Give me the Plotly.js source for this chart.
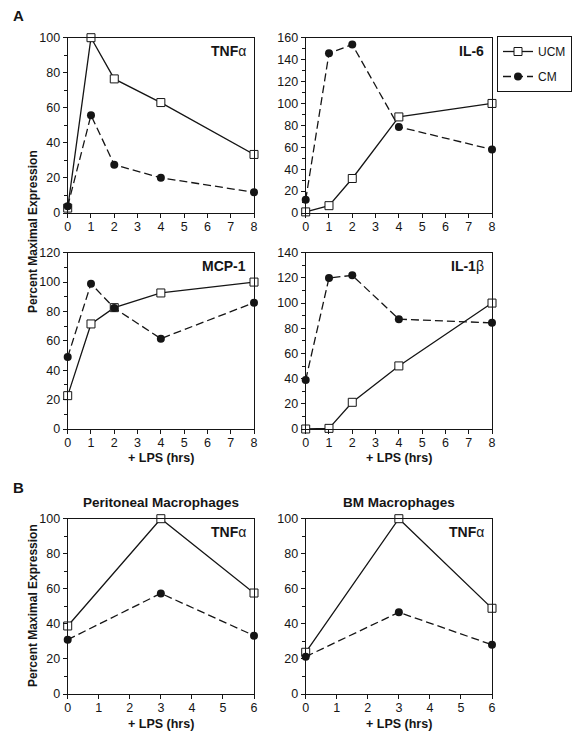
<!DOCTYPE html>
<html>
<head>
<meta charset="utf-8">
<script src="https://cdn.plot.ly/plotly-3.0.1.min.js"></script>
<style>html,body{margin:0;padding:0;background:#fff;}#chart{width:572px;height:736px;}</style>
</head>
<body>
<div id="chart"></div>
<script>
// ---- data ----
const hoursA = [0, 1, 2, 4, 8];
const hoursB = [0, 3, 6];
const seriesNames = ['UCM', 'CM'];
const tnfUCM = [2.8, 100, 76.5, 63, 33.4];
const tnfCM = [3.8, 55.8, 27.5, 20.1, 11.8];
const il6UCM = [1, 6.7, 31.5, 87.7, 100];
const il6CM = [12, 145.8, 153.7, 78.6, 58];
const mcpUCM = [22.7, 71.5, 82.6, 92.6, 100];
const mcpCM = [49, 98.9, 82.3, 61.5, 86];
const il1bUCM = [0, 0.5, 21.2, 50.1, 100];
const il1bCM = [39, 119.9, 122, 87.2, 84.3];
const periUCM = [38.8, 100, 57.6];
const periCM = [31, 57.4, 33.3];
const bmUCM = [23.8, 100, 48.9];
const bmCM = [21.3, 46.6, 28.1];
const panelLabels = ['<b>TNF</b>α', '<b>IL-6</b>', '<b>MCP-1</b>', '<b>IL-1</b>β', '<b>TNF</b>α', '<b>TNF</b>α'];
const panelYMax = [100, 160, 120, 140, 100, 100];
const panelXMax = [8, 8, 8, 8, 6, 6];
const sectionTitles = ['Peritoneal Macrophages', 'BM Macrophages'];
const xTitle = '+ LPS (hrs)';
const yTitle = 'Percent Maximal Expression';

// ---- layout geometry ----
const W = 572, H = 736;
const colPx = [[67.7, 254], [305.7, 492]];
const rowPx = [[37.7, 213], [252.7, 429], [518.7, 694]];
const fx = p => p / W;
const fy = p => 1 - p / H;

const panels = [
  {x: hoursA, u: tnfUCM, c: tnfCM, r: 0, col: 0},
  {x: hoursA, u: il6UCM, c: il6CM, r: 0, col: 1},
  {x: hoursA, u: mcpUCM, c: mcpCM, r: 1, col: 0},
  {x: hoursA, u: il1bUCM, c: il1bCM, r: 1, col: 1},
  {x: hoursB, u: periUCM, c: periCM, r: 2, col: 0},
  {x: hoursB, u: bmUCM, c: bmCM, r: 2, col: 1}
];

const ink = '#151515';
const tickFont = {family: 'Liberation Sans, Arial, sans-serif', size: 12.5, color: ink};
const data = [];
const layout = {
  width: W, height: H,
  margin: {l: 0, r: 0, t: 0, b: 0},
  paper_bgcolor: '#fff', plot_bgcolor: '#fff',
  font: {family: 'Liberation Sans, Arial, sans-serif', color: ink},
  showlegend: true,
  legend: {
    x: fx(497), y: fy(36), xanchor: 'left', yanchor: 'top',
    bordercolor: ink, borderwidth: 1, bgcolor: '#fff',
    font: {size: 12, color: ink}, tracegroupgap: 6, traceorder: 'grouped'
  },
  annotations: []
};

panels.forEach((p, i) => {
  const n = i + 1;
  const xa = 'xaxis' + (n === 1 ? '' : n);
  const ya = 'yaxis' + (n === 1 ? '' : n);
  const xr = 'x' + (n === 1 ? '' : n);
  const yr = 'y' + (n === 1 ? '' : n);
  layout[xa] = {
    domain: [fx(colPx[p.col][0]), fx(colPx[p.col][1])],
    anchor: yr, range: [0, panelXMax[i]], dtick: 1, tick0: 0,
    ticks: 'outside', ticklen: 4, tickwidth: 1, tickcolor: ink,
    ticklabelstandoff: -2,
    showline: true, mirror: true, linecolor: ink, linewidth: 1,
    showgrid: false, zeroline: false, tickfont: tickFont
  };
  layout[ya] = {
    domain: [fy(rowPx[p.r][1]), fy(rowPx[p.r][0])],
    anchor: xr, range: [0, panelYMax[i]], dtick: 20, tick0: 0,
    ticks: 'outside', ticklen: 4, tickwidth: 1, tickcolor: ink,
    minor: {dtick: 10, ticks: 'outside', ticklen: 2.5, tickwidth: 1, tickcolor: ink, showgrid: false},
    showline: true, mirror: true, linecolor: ink, linewidth: 1,
    showgrid: false, zeroline: false, tickfont: tickFont
  };
  data.push({
    x: p.x, y: p.u, xaxis: xr, yaxis: yr, name: seriesNames[0],
    legendgroup: 'u', showlegend: i === 0, cliponaxis: false,
    mode: 'lines+markers', type: 'scatter',
    line: {color: ink, width: 1.3},
    marker: {symbol: 'square', size: 8, color: '#fff', line: {color: ink, width: 1}}
  });
  data.push({
    x: p.x, y: p.c, xaxis: xr, yaxis: yr, name: seriesNames[1],
    legendgroup: 'c', showlegend: i === 0, cliponaxis: false,
    mode: 'lines+markers', type: 'scatter',
    line: {color: ink, width: 1.3, dash: '8px,4px'},
    marker: {symbol: 'circle', size: 8, color: ink, line: {color: ink, width: 0}}
  });
  // panel label inside top-right
  layout.annotations.push({
    text: panelLabels[i], xref: 'paper', yref: 'paper',
    x: fx(colPx[p.col][1] - 6), y: fy(rowPx[p.r][0] + 13),
    xanchor: 'right', yanchor: 'middle', showarrow: false,
    font: {size: 14, color: ink}
  });
  // x-axis titles for rows 2 and 3
  if (p.r > 0) {
    layout.annotations.push({
      text: '<b>' + xTitle + '</b>', xref: 'paper', yref: 'paper',
      x: fx((colPx[p.col][0] + colPx[p.col][1]) / 2),
      y: fy(p.r === 1 ? 458 : 724), xanchor: 'center', yanchor: 'middle',
      showarrow: false, font: {size: 12.5, color: ink}
    });
  }
});

// section titles for B
sectionTitles.forEach((t, k) => {
  layout.annotations.push({
    text: '<b>' + t + '</b>', xref: 'paper', yref: 'paper',
    x: fx((colPx[k][0] + colPx[k][1]) / 2), y: fy(502),
    xanchor: 'center', yanchor: 'middle', showarrow: false,
    font: {size: 13.5, color: ink}
  });
});

// y-axis titles
[232, 606].forEach(py => {
  layout.annotations.push({
    text: '<b>' + yTitle + '</b>', xref: 'paper', yref: 'paper',
    x: fx(33), y: fy(py), xanchor: 'center', yanchor: 'middle',
    textangle: -90, showarrow: false, font: {size: 12, color: ink}
  });
});

// section letters
[['A', 16], ['B', 487]].forEach(([t, py]) => {
  layout.annotations.push({
    text: '<b>' + t + '</b>', xref: 'paper', yref: 'paper',
    x: fx(11), y: fy(py), xanchor: 'left', yanchor: 'middle',
    showarrow: false, font: {size: 15, color: ink}
  });
});

Plotly.newPlot('chart', data, layout, {staticPlot: true, displayModeBar: false});
</script>
</body>
</html>
